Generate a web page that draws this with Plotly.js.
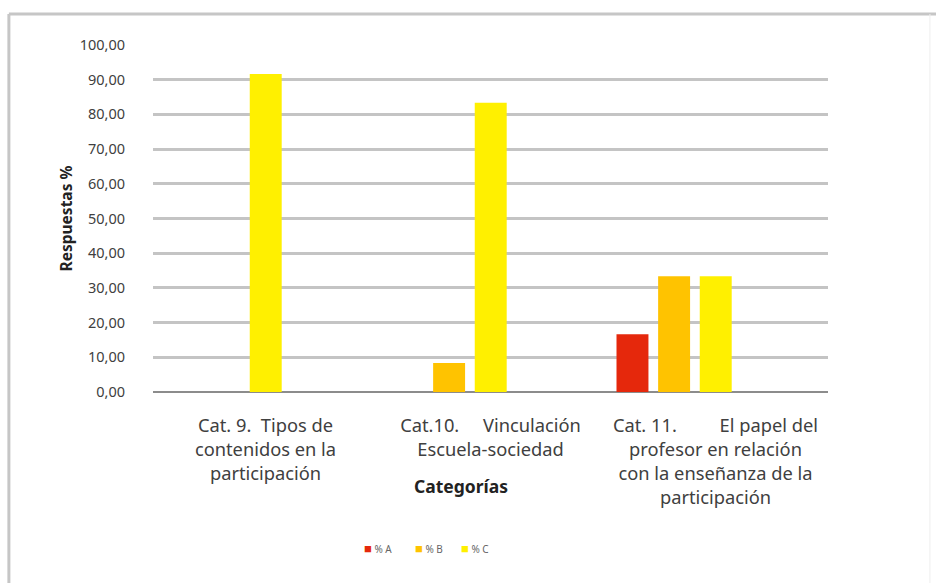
<!DOCTYPE html>
<html>
<head>
<meta charset="utf-8">
<script src="https://cdn.plot.ly/plotly-3.0.1.min.js"></script>
<style>html,body{margin:0;padding:0;background:#fff;}#chart{width:937px;height:583px;}</style>
</head>
<body>
<div id="chart"></div>
<script>
var categories = [
  "Cat. 9.\u00a0 Tipos de<br>contenidos en la<br>participación",
  "Cat.10.\u00a0\u00a0\u00a0\u00a0 Vinculación<br>Escuela-sociedad",
  "Cat. 11.\u00a0\u00a0\u00a0\u00a0\u00a0\u00a0\u00a0\u00a0 El papel del<br>profesor en relación<br>con la enseñanza de la<br>participación"
];
var seriesNames = ["% A", "% B", "% C"];
var valuesA = [0, 0, 16.67];
var valuesB = [0, 8.33, 33.33];
var valuesC = [91.67, 83.33, 33.33];
var yTicks = [0, 10, 20, 30, 40, 50, 60, 70, 80, 90, 100];

var colors = ["#E5280C", "#FFC300", "#FFF000"];
var offsets = [-0.44, -0.255, -0.07];
var legendX = [0.309, 0.385, 0.454];
var allValues = [valuesA, valuesB, valuesC];

var traces = allValues.map(function (vals, i) {
  return {
    type: "bar",
    x: categories,
    y: vals,
    name: seriesNames[i],
    marker: {color: colors[i]},
    width: 0.142,
    offset: offsets[i],
    showlegend: false,
    hoverinfo: "y+name"
  };
});

var annotations = [{
  text: "<b>Categorías</b>",
  xref: "paper", yref: "paper",
  x: 0.456, y: -0.27,
  xanchor: "center", yanchor: "middle",
  showarrow: false,
  font: {size: 17.5, color: "#222", family: "Noto Sans, sans-serif"}
}];
seriesNames.forEach(function (n, i) {
  annotations.push({
    text: '<span style="color:' + colors[i] + ';font-size:13px">■</span> ' + n,
    xref: "paper", yref: "paper",
    x: legendX[i], y: -0.45,
    xanchor: "left", yanchor: "middle",
    showarrow: false,
    font: {size: 10, color: "#666", family: "Noto Sans, sans-serif"}
  });
});

var layout = {
  width: 937,
  height: 583,
  margin: {l: 153, r: 109, t: 45, b: 191},
  paper_bgcolor: "#ffffff",
  plot_bgcolor: "#ffffff",
  barmode: "overlay",
  separators: ",.",
  showlegend: false,
  font: {family: "Noto Sans, Open Sans, sans-serif", color: "#404040"},
  xaxis: {
    type: "category",
    showgrid: false,
    showline: false,
    zeroline: false,
    ticks: "",
    ticklabelstandoff: 21,
    tickfont: {size: 18.3, color: "#404040", family: "Noto Sans, sans-serif"},
    automargin: false
  },
  yaxis: {
    range: [0, 100],
    tickvals: yTicks,
    tickformat: ".2f",
    showgrid: true,
    gridcolor: "#c4c4c4",
    gridwidth: 3,
    zeroline: true,
    zerolinecolor: "#8c8c8c",
    zerolinewidth: 1.5,
    ticks: "",
    ticklabelstandoff: 27,
    tickfont: {size: 14.5, color: "#404040", family: "Noto Sans, sans-serif"},
    title: {text: "Respuestas %", font: {size: 15.5, color: "#222", family: "Noto Sans, sans-serif", weight: "bold"}, standoff: 3},
    automargin: false
  },
  annotations: annotations,
  shapes: [
    {type: "line", xref: "paper", yref: "paper", x0: -0.2135, x1: 1.16, y0: 1.0893, y1: 1.0893, line: {color: "#c6c6c6", width: 3}},
    {type: "line", xref: "paper", yref: "paper", x0: -0.2135, x1: -0.2135, y0: 1.0893, y1: -0.6, line: {color: "#c6c6c6", width: 3}},
    {type: "line", xref: "paper", yref: "paper", x0: 1.151, x1: 1.151, y0: 1.0893, y1: -0.6, line: {color: "#eeeeee", width: 1}}
  ]
};

Plotly.newPlot("chart", traces, layout, {displayModeBar: false, staticPlot: true});
</script>
</body>
</html>
